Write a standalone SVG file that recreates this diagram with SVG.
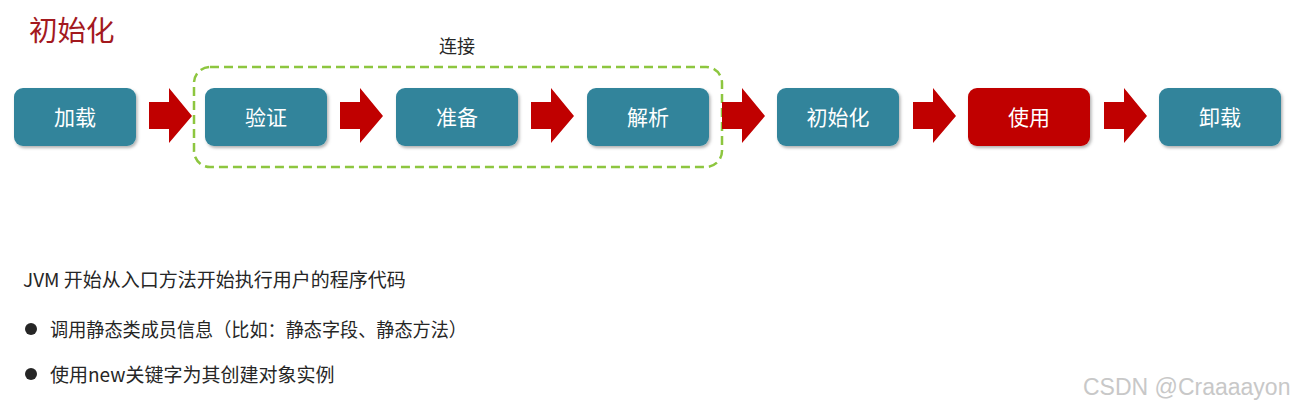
<svg xmlns="http://www.w3.org/2000/svg" width="1300" height="409" viewBox="0 0 1300 409">
<defs>
<filter id="sh" x="-10%" y="-10%" width="125%" height="135%">
<feDropShadow dx="1.5" dy="2" stdDeviation="1.8" flood-color="#000" flood-opacity="0.3"/>
</filter>
<path id="arr" d="M0,-14 H20 V-28 L43,0 L20,27 V13 H0 Z"/>
</defs>
<style>
text{font-family:"Noto Sans CJK SC","Liberation Sans",sans-serif}
.box{fill:#31849B;filter:url(#sh)}
.red{fill:#C00000}
.lbl{fill:#fff;font-size:21px;text-anchor:middle}
.arrow{fill:#C00000}
.body{fill:#262626;font-size:19px}
</style>
<rect width="1300" height="409" fill="#fff"/>
<text x="29" y="41" style="fill:#A3191E;font-size:28.5px">初始化</text>
<g id="group-link">
<rect x="194" y="67" width="528" height="100" rx="16" fill="none" stroke="#8DC63F" stroke-width="2.5" stroke-dasharray="9,5"/>
<text x="457" y="53" style="fill:#262626;font-size:18px;text-anchor:middle">连接</text>
</g>
<g id="n-load"><rect class="box" x="14" y="88" width="122" height="58" rx="9"/><text class="lbl" x="75" y="125">加载</text></g>
<g id="n-verify"><rect class="box" x="205" y="88" width="122" height="58" rx="9"/><text class="lbl" x="266" y="125">验证</text></g>
<g id="n-prepare"><rect class="box" x="396" y="88" width="122" height="58" rx="9"/><text class="lbl" x="457" y="125">准备</text></g>
<g id="n-resolve"><rect class="box" x="587" y="88" width="122" height="58" rx="9"/><text class="lbl" x="648" y="125">解析</text></g>
<g id="n-init"><rect class="box" x="777" y="88" width="122" height="58" rx="9"/><text class="lbl" x="838" y="125">初始化</text></g>
<g id="n-use"><rect class="box red" x="968" y="88" width="122" height="58" rx="9"/><text class="lbl" x="1029" y="125">使用</text></g>
<g id="n-unload"><rect class="box" x="1159" y="88" width="122" height="58" rx="9"/><text class="lbl" x="1220" y="125">卸载</text></g>
<g id="connectors" class="arrow">
<use href="#arr" x="149" y="116"/>
<use href="#arr" x="340" y="116"/>
<use href="#arr" x="531" y="116"/>
<use href="#arr" x="722" y="116"/>
<use href="#arr" x="913" y="116"/>
<use href="#arr" x="1104" y="116"/>
</g>
<g id="notes">
<text class="body" x="23" y="287">JVM 开始从入口方法开始执行用户的程序代码</text>
<circle cx="31" cy="329" r="6" fill="#262626"/>
<text class="body" x="50" y="337" textLength="417" lengthAdjust="spacingAndGlyphs">调用静态类成员信息（比如：静态字段、静态方法）</text>
<circle cx="31" cy="374" r="6" fill="#262626"/>
<text class="body" x="50" y="382">使用new关键字为其创建对象实例</text>
</g>
<text x="1083" y="395" style="fill:#c8c8c8;font-size:23px;font-family:'Liberation Sans',sans-serif">CSDN @Craaaayon</text>
</svg>
